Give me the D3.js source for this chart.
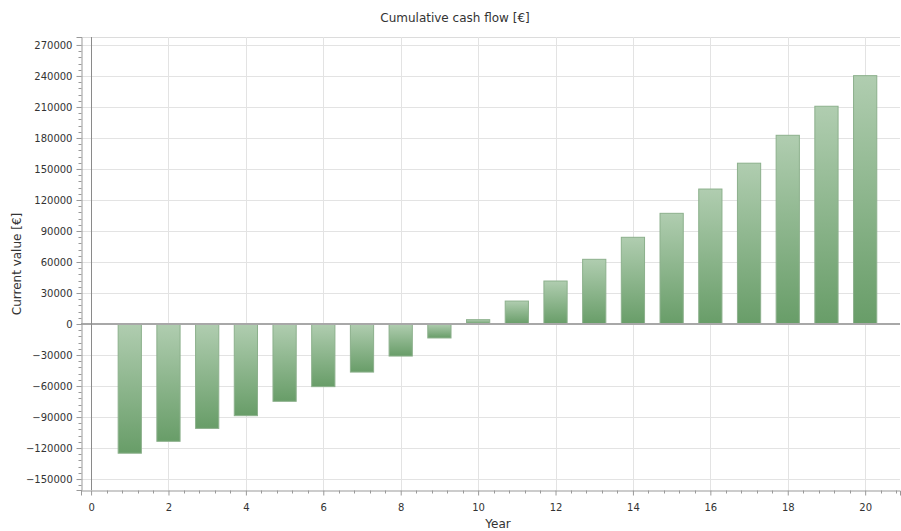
<!DOCTYPE html>
<html>
<head>
<meta charset="utf-8">
<script src="https://cdn.jsdelivr.net/npm/d3@7"></script>
<style>
  body { margin: 0; background: #fff; }
  svg text { font-family: "DejaVu Sans", Verdana, sans-serif; fill: #333; }
</style>
</head>
<body>
<div id="chart-area"></div>
<script>
const width = 901;
const height = 531;

// data
const years = [1, 2, 3, 4, 5, 6, 7, 8, 9, 10, 11, 12, 13, 14, 15, 16, 17, 18, 19, 20];
const cashFlow = [-125000, -113500, -101000, -88700, -74800, -60600, -46500, -31000, -13500, 4200,
    22200, 41600, 62600, 83900, 107100, 130600, 155600, 182600, 210700, 240300];
const yTicks = [-150000, -120000, -90000, -60000, -30000, 0, 30000, 60000, 90000, 120000, 150000, 180000, 210000, 240000, 270000];
const xTicks = [0, 2, 4, 6, 8, 10, 12, 14, 16, 18, 20];

const plot = { left: 81, right: 900, top: 37, bottom: 490 };

const x = d3.scaleLinear().domain([-0.26, 20.9]).range([plot.left, plot.right]);
const y = d3.scaleLinear().domain([-160600, 277700]).range([plot.bottom, plot.top]);

const svg = d3.select("#chart-area")
    .append("svg")
    .attr("width", width)
    .attr("height", height);

const defs = svg.append("defs");
const grad = defs.append("linearGradient")
    .attr("id", "barGrad")
    .attr("x1", 0).attr("y1", 0).attr("x2", 0).attr("y2", 1);
grad.append("stop").attr("offset", "0%").attr("stop-color", "#b0cdb0");
grad.append("stop").attr("offset", "100%").attr("stop-color", "#689d68");

// top border
svg.append("line")
    .attr("x1", plot.left).attr("x2", plot.right)
    .attr("y1", plot.top + 0.5).attr("y2", plot.top + 0.5)
    .attr("stroke", "#dcdcdc");

// grid
svg.append("g").selectAll("line")
    .data(yTicks)
    .enter().append("line")
    .attr("x1", plot.left).attr("x2", plot.right)
    .attr("y1", d => Math.round(y(d)) + 0.5)
    .attr("y2", d => Math.round(y(d)) + 0.5)
    .attr("stroke", "#e3e3e3");

svg.append("g").selectAll("line")
    .data(xTicks.slice(1))
    .enter().append("line")
    .attr("x1", d => Math.round(x(d)) + 0.5)
    .attr("x2", d => Math.round(x(d)) + 0.5)
    .attr("y1", plot.top).attr("y2", plot.bottom)
    .attr("stroke", "#e3e3e3");

// bars
const barW = x(0.6) - x(0);
svg.append("g").selectAll("rect")
    .data(years)
    .enter().append("rect")
    .attr("x", (d, i) => x(d) - barW / 2)
    .attr("y", (d, i) => y(Math.max(0, cashFlow[i])))
    .attr("width", barW)
    .attr("height", (d, i) => Math.abs(y(cashFlow[i]) - y(0)))
    .attr("fill", "url(#barGrad)")
    .attr("stroke", "#8cb08c")
    .attr("stroke-width", 1);

// zero lines
svg.append("line")
    .attr("x1", plot.left).attr("x2", plot.right)
    .attr("y1", y(0)).attr("y2", y(0))
    .attr("stroke", "#a8a8a8")
    .attr("stroke-width", 2);

svg.append("line")
    .attr("x1", Math.round(x(0)) + 0.5).attr("x2", Math.round(x(0)) + 0.5)
    .attr("y1", plot.top).attr("y2", plot.bottom)
    .attr("stroke", "#8a8a8a");

// y axis
const yAxis = d3.axisLeft(y)
    .tickValues(yTicks)
    .tickSize(5)
    .tickPadding(4)
    .tickFormat(d3.format("d"));
const gy = svg.append("g")
    .attr("transform", `translate(${plot.left + 0.5},0)`)
    .call(yAxis);
const yMinor = d3.range(-156000, 276000, 6000).filter(v => v % 30000 !== 0);
gy.selectAll(".minor")
    .data(yMinor)
    .enter().append("line")
    .attr("class", "minor")
    .attr("x1", -3).attr("x2", 0)
    .attr("y1", d => Math.round(y(d)) + 0.5)
    .attr("y2", d => Math.round(y(d)) + 0.5)
    .attr("stroke", "#999");

// x axis
const xAxis = d3.axisBottom(x)
    .tickValues(xTicks)
    .tickSize(5)
    .tickPadding(8)
    .tickFormat(d3.format("d"));
const gx = svg.append("g")
    .attr("transform", `translate(0,${plot.bottom + 0.5})`)
    .call(xAxis);
const xMinor = d3.range(-0.0, 20.9, 0.4).filter(v => Math.abs(v / 2 - Math.round(v / 2)) > 0.01);
gx.selectAll(".minor")
    .data(xMinor)
    .enter().append("line")
    .attr("class", "minor")
    .attr("y1", 0).attr("y2", 3)
    .attr("x1", d => Math.round(x(d)) + 0.5)
    .attr("x2", d => Math.round(x(d)) + 0.5)
    .attr("stroke", "#999");

[gx, gy].forEach(g => {
    g.select(".domain").attr("stroke", "#999");
    g.selectAll(".tick line").attr("stroke", "#999");
    g.selectAll(".tick text")
        .attr("font-family", "DejaVu Sans, Verdana, sans-serif")
        .attr("font-size", 10)
        .attr("fill", "#333");
});

// titles
svg.append("text")
    .attr("x", 455).attr("y", 22)
    .attr("text-anchor", "middle")
    .attr("font-size", 12)
    .text("Cumulative cash flow [€]");

svg.append("text")
    .attr("transform", "translate(21,264) rotate(-90)")
    .attr("text-anchor", "middle")
    .attr("font-size", 12)
    .text("Current value [€]");

svg.append("text")
    .attr("x", 498).attr("y", 528)
    .attr("text-anchor", "middle")
    .attr("font-size", 12)
    .text("Year");
</script>
</body>
</html>
